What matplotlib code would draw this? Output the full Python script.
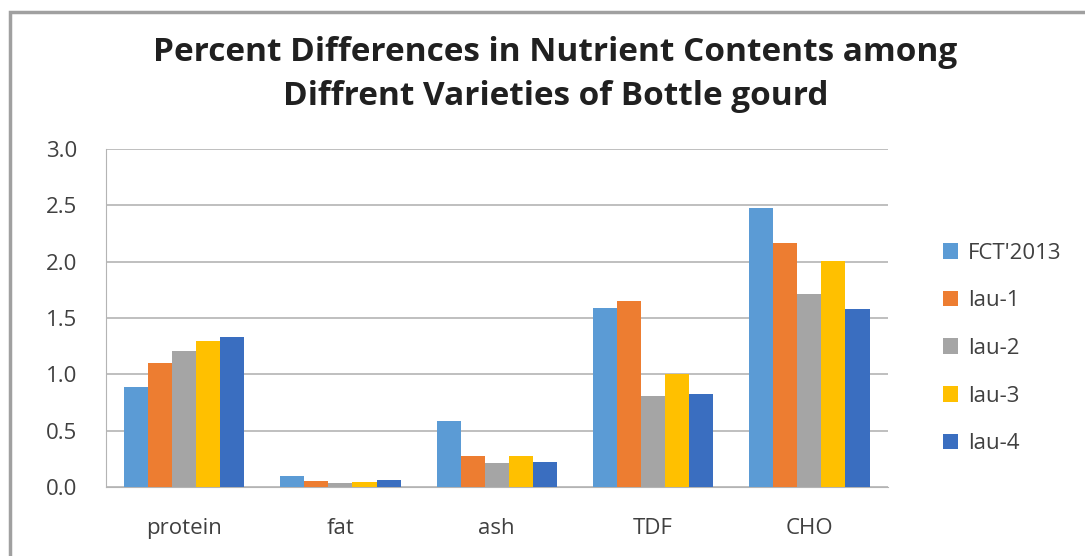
import numpy as np
import matplotlib.pyplot as plt
from matplotlib.patches import Rectangle

categories = ["protein", "fat", "ash", "TDF", "CHO"]
series = ["FCT'2013", "lau-1", "lau-2", "lau-3", "lau-4"]
fct2013 = [0.89, 0.10, 0.59, 1.59, 2.48]
lau1 = [1.10, 0.056, 0.275, 1.65, 2.17]
lau2 = [1.21, 0.04, 0.215, 0.81, 1.71]
lau3 = [1.30, 0.047, 0.28, 1.00, 2.01]
lau4 = [1.33, 0.062, 0.22, 0.825, 1.58]
colors = ["#5B9BD5", "#ED7D31", "#A5A5A5", "#FFC000", "#3A6EC0"]

plt.rcParams['font.family'] = ['Open Sans', 'DejaVu Sans']

fig = plt.figure(figsize=(10.85, 5.56), dpi=100)
ax = fig.add_axes([0.0977, 0.124, 0.7203, 0.608])

# frame around the chart, cropped at right and bottom
fig.patches.append(Rectangle((0.0095, -0.05), 1.05, 1.028, transform=fig.transFigure,
                             fill=False, edgecolor="#a0a0a0", linewidth=2.5))

x = np.arange(len(categories))
w = 0.154
for i, (name, vals) in enumerate(zip(series, [fct2013, lau1, lau2, lau3, lau4])):
    ax.bar(x + (i - 2) * w, vals, width=w, color=colors[i], label=name, zorder=3)

ax.set_xlim(-0.5, 4.5)
ax.set_ylim(0, 3.0)
ax.set_yticks(np.arange(0, 3.01, 0.5))
ax.set_yticklabels([f"{v:.1f}" for v in np.arange(0, 3.01, 0.5)])
ax.set_xticks(x)
ax.set_xticklabels(categories)
ax.tick_params(axis='both', length=0, labelsize=16, colors="#404040")
ax.tick_params(axis='x', pad=22)
ax.tick_params(axis='y', pad=21)
ax.grid(axis='y', color="#b4b4b4", linewidth=1.2, zorder=0)
for s in ["top", "right"]:
    ax.spines[s].set_visible(False)
ax.spines["left"].set_color("#b4b4b4")
ax.spines["bottom"].set_color("#b4b4b4")

fig.text(0.512, 0.906, "Percent Differences in Nutrient Contents among",
         ha="center", va="center", fontsize=24, fontweight="bold", color="#202020")
fig.text(0.512, 0.826, "Diffrent Varieties of Bottle gourd",
         ha="center", va="center", fontsize=24, fontweight="bold", color="#202020")

leg = ax.legend(loc="center left", bbox_to_anchor=(1.045, 0.41), frameon=False,
                fontsize=16, handlelength=0.7, handleheight=0.7, labelspacing=1.2,
                handletextpad=0.45)
for t in leg.get_texts():
    t.set_color("#404040")

fig.savefig("out.png", dpi=100)
